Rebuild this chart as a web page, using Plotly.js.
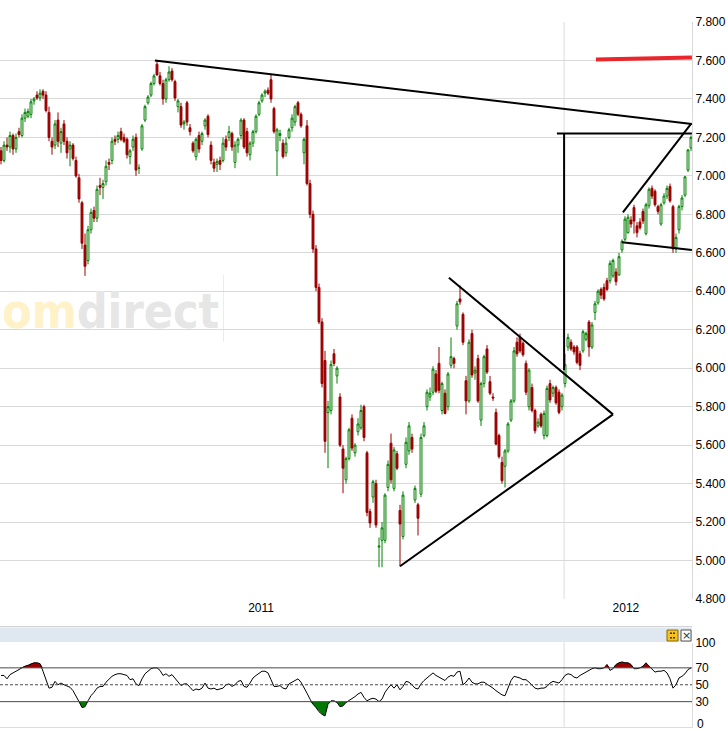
<!DOCTYPE html>
<html><head><meta charset="utf-8">
<script src="https://cdn.plot.ly/plotly-3.0.1.min.js"></script>
<style>html,body{margin:0;padding:0;background:#fff;overflow:hidden}#chart{width:728px;height:731px}</style>
</head><body><div id="chart"></div><script>
// ---- daily candles (trading-day index) ----
const openP = [
7130,7080,7160,7150,7210,7140,7230,7210,7300,7310,
7320,7390,7420,7405,7440,7420,7330,7180,7160,7290,
7170,7270,7180,7140,7160,7080,6990,6860,6640,6560,
6720,6820,6780,6950,6940,6970,7070,7080,7190,7190,
7230,7200,7190,7100,7150,7200,7040,7140,7290,7380,
7420,7480,7580,7520,7480,7400,7500,7545,7490,7360,
7360,7270,7380,7250,7170,7100,7210,7180,7260,7310,
7160,7070,7060,7080,7080,7190,7200,7220,7070,7160,
7210,7290,7230,7110,7170,7230,7320,7390,7430,7445,
7500,7350,7130,7210,7170,7120,7200,7250,7280,7380,
7320,7120,7260,6960,6800,6620,6420,6240,6040,5770,
5780,6075,5960,5850,5580,5420,5530,5740,5560,5670,
5690,5800,5560,5255,5330,5400,5070,5105,5105,5380,
5610,5375,5555,5260,5125,5500,5570,5640,5315,5290,
5345,5650,5800,5850,5875,5970,6025,5780,5870,5800,
6015,6050,6220,6360,6280,5935,5830,6180,5975,6050,
5730,5920,6100,5930,5850,5770,5650,5510,5490,5570,
5730,5830,6135,6160,6130,6025,5800,5900,5780,5700,
5760,5650,5650,5920,5870,5900,5875,5800,5920,6110,
6135,6110,6110,6075,6090,6150,6240,6110,6290,6340,
6410,6420,6455,6455,6480,6500,6485,6615,6670,6705,
6770,6835,6740,6760,6815,6700,6845,6935,6920,6840,
6750,6860,6895,6945,6840,6620,6720,6840,6900,7030,
7145];
const highP = [
7150,7180,7200,7230,7220,7220,7250,7320,7350,7350,
7400,7410,7440,7450,7450,7440,7360,7200,7290,7330,
7250,7290,7200,7180,7170,7100,7010,6870,6700,6740,
6830,6840,6950,6990,6980,7080,7090,7200,7210,7230,
7250,7220,7200,7140,7210,7220,7060,7270,7370,7420,
7490,7530,7600,7540,7500,7510,7570,7560,7500,7400,
7380,7290,7390,7270,7180,7200,7230,7230,7300,7320,
7180,7090,7090,7100,7200,7210,7260,7230,7180,7200,
7300,7300,7250,7180,7240,7320,7390,7430,7450,7460,
7530,7360,7250,7240,7190,7200,7250,7320,7370,7390,
7330,7200,7290,6980,6820,6640,6440,6260,6090,5830,
6040,6100,6010,5870,5600,5540,5690,5760,5610,5740,
5810,5810,5570,5270,5420,5420,5120,5200,5350,5520,
5660,5590,5570,5290,5360,5640,5720,5660,5390,5300,
5660,5720,5890,5900,6010,5990,6110,5930,5890,5980,
6160,6060,6350,6430,6290,5960,6150,6200,6010,6070,
5930,6070,6120,5960,5870,5790,5660,5540,5580,5720,
5840,6110,6160,6180,6140,6040,6000,5920,5790,5740,
5770,5780,5910,5940,5910,5910,5890,5870,6075,6180,
6150,6120,6120,6090,6200,6190,6250,6240,6350,6410,
6420,6440,6470,6560,6570,6520,6600,6670,6790,6800,
6790,6850,6760,6780,6830,6860,6940,6950,6930,6850,
6860,6910,6950,6960,6850,6700,6850,6900,7000,7140,
7210];
const lowP = [
7060,7070,7130,7120,7110,7120,7200,7200,7280,7300,
7300,7370,7395,7390,7400,7330,7180,7110,7140,7150,
7120,7160,7090,7050,7080,6990,6860,6620,6480,6540,
6700,6760,6760,6900,6880,6950,7030,7060,7160,7170,
7180,7170,7090,7060,7130,7000,7010,7130,7280,7370,
7410,7470,7520,7470,7370,7380,7490,7490,7390,7330,
7250,7240,7260,7210,7120,7080,7120,7160,7240,7200,
7060,7020,7020,7030,7070,7130,7180,7130,7040,7120,
7190,7140,7100,7080,7150,7220,7310,7380,7410,7420,
7380,7220,7000,7180,7090,7100,7190,7230,7260,7310,
7250,7060,6950,6780,6600,6400,6230,5900,5560,5480,
5760,6010,5920,5590,5350,5400,5520,5570,5540,5650,
5680,5620,5230,5170,5300,5170,4965,4965,5090,5360,
5400,5360,5470,4970,5110,5480,5550,5560,5300,5130,
5330,5640,5780,5830,5860,5870,5870,5760,5760,5780,
6000,6000,6200,6330,6120,5760,5820,5950,5940,5820,
5700,5900,5970,5860,5830,5600,5530,5400,5380,5560,
5720,5820,6060,6080,6060,5860,5780,5770,5660,5690,
5690,5630,5640,5820,5850,5810,5760,5780,5900,6090,
6090,6070,6020,5990,6080,6140,6060,6100,6250,6330,
6360,6350,6400,6440,6470,6430,6480,6600,6660,6700,
6730,6700,6680,6720,6750,6690,6830,6880,6840,6800,
6740,6850,6880,6860,6600,6600,6700,6820,6890,7020,
7130];
const closeP = [
7080,7160,7150,7210,7140,7200,7215,7300,7330,7335,
7385,7400,7405,7430,7420,7340,7200,7150,7270,7180,
7230,7180,7120,7160,7090,7000,6880,6650,6530,6720,
6810,6780,6930,6940,6960,7050,7060,7180,7180,7210,
7190,7180,7110,7130,7190,7030,7040,7260,7360,7410,
7480,7520,7525,7480,7400,7500,7540,7500,7405,7390,
7265,7280,7280,7230,7130,7190,7140,7220,7290,7215,
7080,7040,7075,7060,7170,7150,7230,7150,7160,7190,
7290,7150,7120,7170,7230,7310,7380,7420,7440,7430,
7400,7230,7240,7220,7100,7170,7240,7300,7360,7320,
7260,7190,6960,6800,6620,6420,6240,5920,5620,5800,
6020,6025,6000,5600,5480,5530,5680,5585,5600,5710,
5780,5640,5250,5195,5410,5185,5075,5170,5340,5500,
5420,5575,5480,5190,5340,5615,5700,5580,5375,5220,
5640,5700,5875,5870,5995,5880,5885,5920,5765,5970,
6060,6025,6335,6345,6135,5830,6135,5965,5990,5830,
5920,6060,5980,5870,5845,5605,5540,5415,5570,5710,
5830,6090,6075,6090,6070,5875,5990,5780,5675,5720,
5700,5765,5895,5835,5900,5820,5770,5860,6020,6160,
6100,6085,6030,6015,6190,6180,6110,6225,6335,6400,
6380,6360,6410,6545,6560,6450,6580,6660,6775,6785,
6750,6765,6705,6730,6765,6850,6930,6895,6850,6815,
6850,6895,6935,6870,6620,6680,6840,6885,6995,7135,
7200];

// ---- RSI, one value per trading day ----
const rsiValues = [
61,61,57,62,64,66,68,71,72,73,
75,76,76,75,66,56,46,47,54,50,
52,50,48,47,43,37,30,23,24,31,
37,41,46,48,48,53,57,60,62,63,
63,62,61,56,57,51,49,57,63,66,
69,70,70,67,61,63,60,62,58,54,
49,51,51,47,43,45,44,46,52,46,
45,46,44,45,46,50,51,48,50,54,
55,48,47,52,58,61,64,66,66,64,
56,48,48,49,46,45,51,53,55,57,
53,47,40,33,27,23,18,15,13,27,
31,31,29,24,25,29,31,34,36,39,
41,35,31,33,34,33,30,33,41,46,
50,46,50,44,48,54,53,50,46,45,
51,55,58,61,64,61,59,58,55,59,
61,60,65,66,50,53,58,53,51,51,
53,53,51,49,46,43,40,38,37,45,
55,60,59,58,56,56,53,49,46,45,
46,46,48,52,54,53,52,56,61,63,
62,59,58,61,63,65,68,69,70,69,
69,70,74,67,69,74,76,77,76,76,
74,69,69,70,72,76,72,68,65,66,
66,67,64,57,46,50,58,60,63,68,
70];

// ---- axis labels ----
const priceTicks = [4800,5000,5200,5400,5600,5800,6000,6200,6400,6600,6800,7000,7200,7400,7600,7800];
const priceTickText = ["4.800","5.000","5.200","5.400","5.600","5.800","6.000","6.200","6.400","6.600","6.800","7.000","7.200","7.400","7.600","7.800"];
const yearLabels = ["2011","2012"];
const yearLabelPos = [86.7, 208.3];
const yearLinePos = 187.7;
const rsiTicks = [30,50,70,100];
const rsiTickText = ["30","50","70","100"];
const rsiBottomLabel = "0";

// ---- hand-drawn trend lines [x0, y0, x1, y1] in (day index, price) ----
const trendResistance = [51.3, 7600, 230.3, 7270];
const trendTarget = [198.3, 7605, 230.3, 7615];
const trendHorizontal = [185.3, 7220, 230.3, 7220];
const trendVertical = [187.7, 7220, 187.7, 5990];
const flagUpper = [207.3, 6810, 230.0, 7270];
const flagLower = [207.0, 6655, 230.3, 6615];
const triangleUpper = [149.3, 6470, 204.0, 5760];
const triangleLower = [133.0, 4970, 204.0, 5760];

const days = openP.map((_, i) => i);

const H = 731;
const py = p => 1 - p / H;   // pixel row -> paper fraction
const PW = 692;
const px = p => p / PW;

const traces = [
  {
    type: 'candlestick', x: days, open: openP, high: highP, low: lowP, close: closeP,
    xaxis: 'x', yaxis: 'y', whiskerwidth: 0, hoverinfo: 'skip', showlegend: false,
    increasing: {line: {color: '#008000', width: 1}, fillcolor: '#ffffff'},
    decreasing: {line: {color: '#990000', width: 1}, fillcolor: '#990000'}
  },
  {type: 'scatter', mode: 'lines', x: days, y: rsiValues.map(() => 70), xaxis: 'x2', yaxis: 'y2',
   line: {width: 0}, hoverinfo: 'skip', showlegend: false},
  {type: 'scatter', mode: 'lines', x: days, y: rsiValues.map(v => Math.max(v, 70)), xaxis: 'x2', yaxis: 'y2',
   line: {width: 0}, fill: 'tonexty', fillcolor: '#990000', hoverinfo: 'skip', showlegend: false},
  {type: 'scatter', mode: 'lines', x: days, y: rsiValues.map(() => 30), xaxis: 'x2', yaxis: 'y2',
   line: {width: 0}, hoverinfo: 'skip', showlegend: false},
  {type: 'scatter', mode: 'lines', x: days, y: rsiValues.map(v => Math.min(v, 30)), xaxis: 'x2', yaxis: 'y2',
   line: {width: 0}, fill: 'tonexty', fillcolor: '#007a00', hoverinfo: 'skip', showlegend: false},
  {type: 'scatter', mode: 'lines', x: days, y: rsiValues, xaxis: 'x2', yaxis: 'y2',
   line: {color: '#000000', width: 1}, hoverinfo: 'skip', showlegend: false}
];

function seg(a, color, width) {
  return {type: 'line', xref: 'x', yref: 'y', x0: a[0], y0: a[1], x1: a[2], y1: a[3],
          line: {color: color, width: width}, layer: 'above'};
}

const shapes = [
  {type: 'line', xref: 'x', yref: 'y domain', x0: yearLinePos, x1: yearLinePos, y0: 0, y1: 1,
   line: {color: '#dcdcdc', width: 1}, layer: 'below'},
  {type: 'line', xref: 'x2', yref: 'y2 domain', x0: yearLinePos, x1: yearLinePos, y0: 0, y1: 1,
   line: {color: '#dcdcdc', width: 1}, layer: 'below'},
  {type: 'line', xref: 'paper', yref: 'paper', x0: px(223.5), x1: px(223.5), y0: py(342), y1: py(275),
   line: {color: '#ececec', width: 1}, layer: 'below'},
  {type: 'line', xref: 'paper', yref: 'paper', x0: 0, x1: 1, y0: py(626.5), y1: py(626.5),
   line: {color: '#d4d4d4', width: 1}, layer: 'below'},
  {type: 'rect', xref: 'paper', yref: 'paper', x0: 0, x1: 1, y0: py(642), y1: py(627.5),
   fillcolor: '#dfe7f0', line: {width: 0}, layer: 'below'},
  {type: 'rect', xref: 'paper', yref: 'paper', x0: px(667), x1: px(678), y0: py(641), y1: py(630),
   fillcolor: '#f7c21a', line: {color: '#8a6a00', width: 1}},
  {type: 'rect', xref: 'paper', yref: 'paper', x0: px(670), x1: px(672), y0: py(634), y1: py(632.5),
   fillcolor: '#333', line: {width: 0}},
  {type: 'rect', xref: 'paper', yref: 'paper', x0: px(673), x1: px(675), y0: py(634), y1: py(632.5),
   fillcolor: '#333', line: {width: 0}},
  {type: 'rect', xref: 'paper', yref: 'paper', x0: px(670), x1: px(672), y0: py(638.5), y1: py(637),
   fillcolor: '#333', line: {width: 0}},
  {type: 'rect', xref: 'paper', yref: 'paper', x0: px(673), x1: px(675), y0: py(638.5), y1: py(637),
   fillcolor: '#333', line: {width: 0}},
  {type: 'rect', xref: 'paper', yref: 'paper', x0: px(681), x1: px(691), y0: py(641), y1: py(630),
   fillcolor: '#ffffff', line: {color: '#555', width: 1}},
  {type: 'line', xref: 'paper', yref: 'y2', x0: 0, x1: 1, y0: 70, y1: 70, line: {color: '#4a4a4a', width: 1}},
  {type: 'line', xref: 'paper', yref: 'y2', x0: 0, x1: 1, y0: 30, y1: 30, line: {color: '#4a4a4a', width: 1}},
  {type: 'line', xref: 'paper', yref: 'y2', x0: 0, x1: 1, y0: 50, y1: 50, line: {color: '#4a4a4a', width: 1, dash: '3px,2px'}},
  seg(trendResistance, '#000000', 2),
  seg(trendTarget, '#e8262b', 4),
  seg(trendHorizontal, '#000000', 2),
  seg(trendVertical, '#000000', 2),
  seg(flagUpper, '#000000', 2),
  seg(flagLower, '#000000', 2),
  seg(triangleUpper, '#000000', 2),
  seg(triangleLower, '#000000', 2)
];

const tickFont = {family: 'Liberation Sans, Arial, sans-serif', size: 12, color: '#000000'};

const layout = {
  width: 728, height: 731,
  margin: {l: 0, r: 36, t: 0, b: 0, pad: 0},
  paper_bgcolor: '#ffffff', plot_bgcolor: 'rgba(0,0,0,0)',
  showlegend: false,
  boxgap: 0.1,
  xaxis: {
    domain: [0, 1], anchor: 'y', range: [-0.333, 230.333], automargin: false,
    tickmode: 'array', tickvals: yearLabelPos, ticktext: yearLabels,
    showgrid: false, zeroline: false, showline: false, ticks: '',
    tickfont: tickFont, rangeslider: {visible: false}, fixedrange: true
  },
  yaxis: {
    domain: [py(599), py(22)], anchor: 'x', side: 'right', range: [4800, 7800], automargin: false,
    tickmode: 'array', tickvals: priceTicks, ticktext: priceTickText,
    showgrid: true, gridcolor: '#d9d9d9', gridwidth: 1, zeroline: false,
    showline: true, linecolor: '#d9d9d9', ticks: '', tickfont: tickFont, fixedrange: true
  },
  xaxis2: {
    domain: [0, 1], anchor: 'y2', matches: 'x', showticklabels: false, automargin: false,
    rangeslider: {visible: false},
    showgrid: false, zeroline: false, showline: true, linecolor: '#dcdcdc', ticks: '', fixedrange: true
  },
  yaxis2: {
    domain: [py(727), py(642.5)], anchor: 'x2', side: 'right', range: [0, 100], automargin: false,
    tickmode: 'array', tickvals: rsiTicks, ticktext: rsiTickText,
    showgrid: false, zeroline: false, showline: true, linecolor: '#dcdcdc',
    ticks: '', tickfont: tickFont, fixedrange: true
  },
  shapes: shapes,
  annotations: [
    {xref: 'paper', yref: 'paper', x: 0, y: py(311), xanchor: 'left', yanchor: 'middle',
     showarrow: false,
     text: '<b><span style="color:#fff1c8">om</span><span style="color:#e6e6e6">direct</span></b>',
     font: {family: 'DejaVu Sans Condensed, DejaVu Sans, sans-serif', size: 48, color: '#e6e6e6'}},
    {xref: 'paper', yref: 'paper', x: px(686), y: py(635.5), xanchor: 'center', yanchor: 'middle',
     showarrow: false, text: '×', font: {family: 'DejaVu Sans, sans-serif', size: 11, color: '#333'}},
    {xref: 'paper', yref: 'paper', x: px(695), y: py(723.5), xanchor: 'left', yanchor: 'middle',
     showarrow: false, text: rsiBottomLabel, font: tickFont}
  ]
};

Plotly.newPlot('chart', traces, layout, {displayModeBar: false, staticPlot: true});
</script></body></html>
